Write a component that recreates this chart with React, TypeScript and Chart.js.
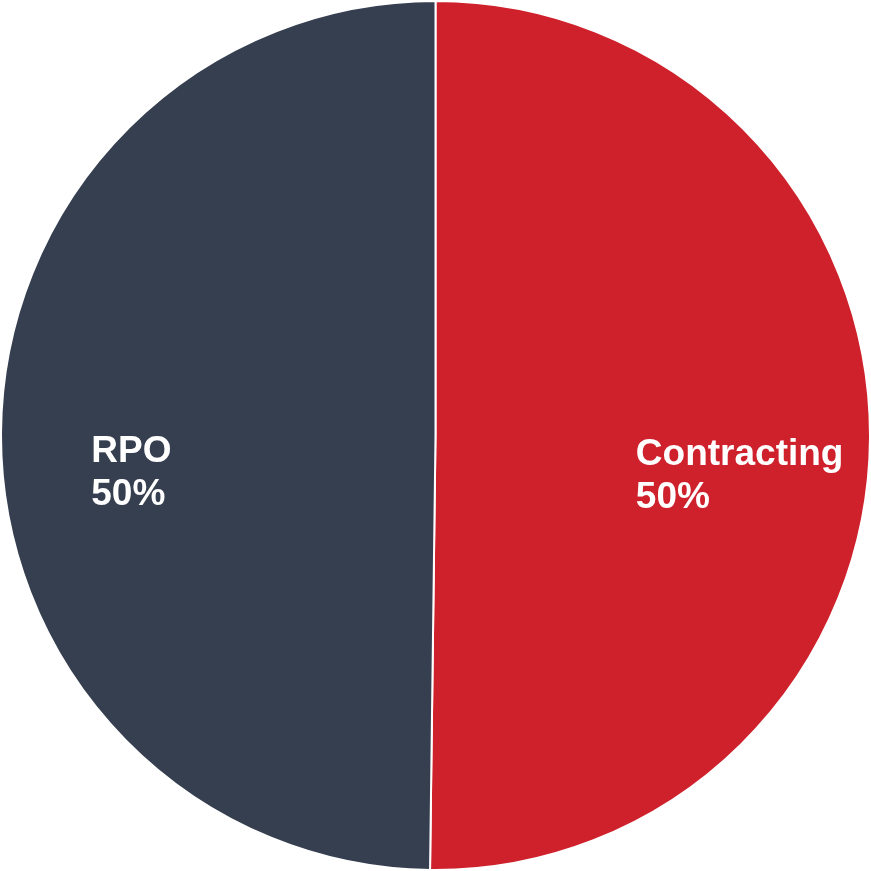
import React, { useEffect, useRef } from "react";
import { Chart, registerables } from "chart.js";

Chart.register(...registerables);

const categories = ["Contracting", "RPO"];
const values = [50.2, 49.8];
const colors = ["#CF212B", "#353F4F"];

const labelPlugin = {
  id: "sliceLabels",
  afterDatasetsDraw(chart: any) {
    const ctx = chart.ctx;
    const meta = chart.getDatasetMeta(0);
    const data = chart.data.datasets[0].data as number[];
    const total = data.reduce((a, b) => a + b, 0);
    ctx.save();
    ctx.font = 'bold 37px "Liberation Sans", Arial, sans-serif';
    ctx.fillStyle = "#FFFFFF";
    ctx.textAlign = "left";
    ctx.textBaseline = "alphabetic";
    meta.data.forEach((arc: any, i: number) => {
      const p = arc.getProps(["startAngle", "endAngle", "outerRadius", "x", "y"], true);
      const mid = (p.startAngle + p.endAngle) / 2;
      const r = p.outerRadius * 0.7;
      const cx = p.x + Math.cos(mid) * r;
      const cy = p.y + Math.sin(mid) * r;
      const lines = [
        String(chart.data.labels[i]),
        Math.round((data[i] / total) * 100) + "%",
      ];
      const w = Math.max(...lines.map((l) => ctx.measureText(l).width));
      const left = cx - w / 2;
      lines.forEach((l, j) => {
        ctx.fillText(l, left, cy + 28 + j * 43);
      });
    });
    ctx.restore();
  },
};

export default function App() {
  const ref = useRef<HTMLCanvasElement | null>(null);
  useEffect(() => {
    document.body.style.margin = "0";
    const canvas = ref.current;
    if (!canvas) return;
    const chart = new Chart(canvas, {
      type: "pie",
      data: {
        labels: categories,
        datasets: [
          {
            data: values,
            backgroundColor: colors,
            borderColor: "#FFFFFF",
            borderWidth: 2,
          },
        ],
      },
      options: {
        responsive: false,
        animation: false,
        devicePixelRatio: 1,
        layout: { padding: 0 },
        plugins: {
          legend: { display: false },
          tooltip: { enabled: false },
        },
      },
      plugins: [labelPlugin],
    });
    return () => chart.destroy();
  }, []);
  return (
    <div style={{ width: 871, height: 871, background: "#FFFFFF" }}>
      <canvas ref={ref} width={871} height={871} />
    </div>
  );
}
